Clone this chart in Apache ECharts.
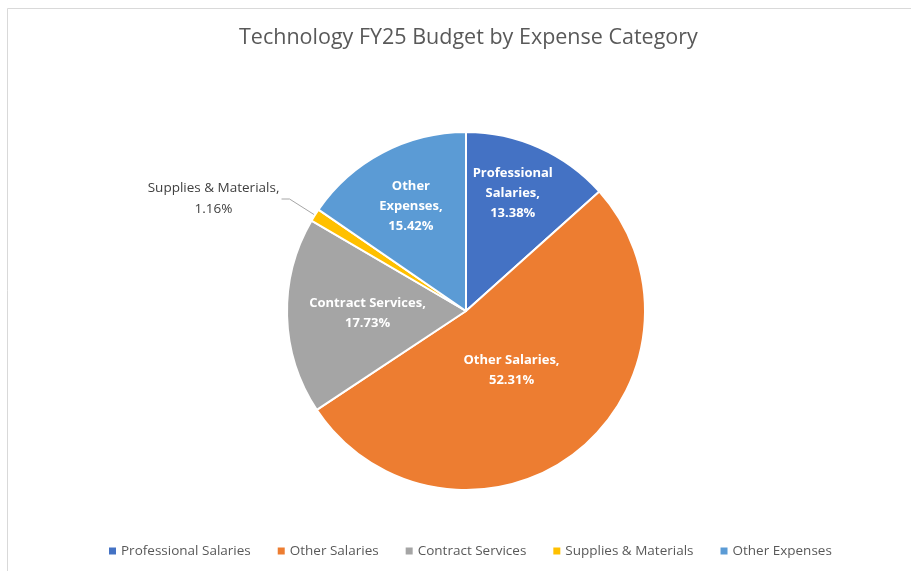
<!DOCTYPE html>
<html>
<head>
<meta charset="utf-8">
<script src="https://cdn.jsdelivr.net/npm/echarts@6/dist/echarts.min.js"></script>
<style>
html,body{margin:0;padding:0;background:#fff;}
#main{width:911px;height:571px;}
</style>
</head>
<body>
<div id="main"></div>
<script>
// 费用类别及占比
var categories = ['Professional Salaries', 'Other Salaries', 'Contract Services', 'Supplies & Materials', 'Other Expenses'];
var percents = [13.38, 52.31, 17.73, 1.16, 15.42];
var colorList = ['#4472c4', '#ed7d31', '#a5a5a5', '#ffc000', '#5b9bd5'];
// label text lines (as Excel wraps them)
var labelLines = [
    ['Professional', 'Salaries,'],
    ['Other Salaries,'],
    ['Contract Services,'],
    ['Supplies & Materials,'],
    ['Other', 'Expenses,']
];
// tweak of inside label spots
var labelShift = [[9, -33], [-11, -14], [-6, 0], [0, 0], [-12, -23]];

var fontName = "'Open Sans', 'Liberation Sans', sans-serif";

var chart = echarts.init(document.getElementById('main'));

var dataPie = [];
for (var i = 0; i < categories.length; i++) {
    var item = {
        name: categories[i],
        value: percents[i],
        itemStyle: {color: colorList[i]}
    };
    if (i == 3) {
        item.label = {
            position: 'outside',
            color: '#404040',
            fontWeight: 'normal',
            distanceToLabelLine: 2,
            formatter: function (p) {
                return '{a|' + labelLines[3].join('\n') + '}\n{a|' + p.value.toFixed(2) + '%}';
            },
            rich: {a: {width: 132, align: 'center', fontSize: 13.5, lineHeight: 21, color: '#404040', fontFamily: fontName}}
        };
        item.labelLine = {show: true, length: 30, length2: 8, lineStyle: {color: '#a6a6a6', width: 1}};
    } else {
        item.label = {offset: labelShift[i]};
    }
    dataPie.push(item);
}

var option = {
    backgroundColor: '#fff',
    animation: false,
    title: {
        text: 'Technology FY25 Budget by Expense Category',
        left: 234,
        top: 22,
        textStyle: {fontSize: 21.5, fontWeight: 'normal', color: '#595959', fontFamily: fontName}
    },
    legend: {
        bottom: 8,
        left: 104,
        icon: 'rect',
        itemWidth: 7,
        itemHeight: 7,
        itemGap: 27,
        itemStyle: {borderWidth: 0},
        data: categories,
        textStyle: {fontSize: 13.5, color: '#595959', fontFamily: fontName}
    },
    graphic: [{
        type: 'rect',
        shape: {x: 7.5, y: 8.5, width: 1000, height: 1000},
        style: {fill: 'none', stroke: '#d9d9d9', lineWidth: 1},
        silent: true
    }],
    series: [{
        type: 'pie',
        radius: 179,
        center: [466, 311],
        startAngle: 90,
        clockwise: true,
        data: dataPie,
        itemStyle: {borderColor: '#fff', borderWidth: 2},
        label: {
            show: true,
            position: 'inside',
            color: '#fff',
            fontWeight: 'bold',
            fontSize: 13,
            lineHeight: 20,
            fontFamily: fontName,
            formatter: function (p) {
                return labelLines[p.dataIndex].join('\n') + '\n' + p.value.toFixed(2) + '%';
            }
        },
        labelLine: {show: false},
        emphasis: {disabled: true}
    }]
};
chart.setOption(option);
</script>
</body>
</html>
